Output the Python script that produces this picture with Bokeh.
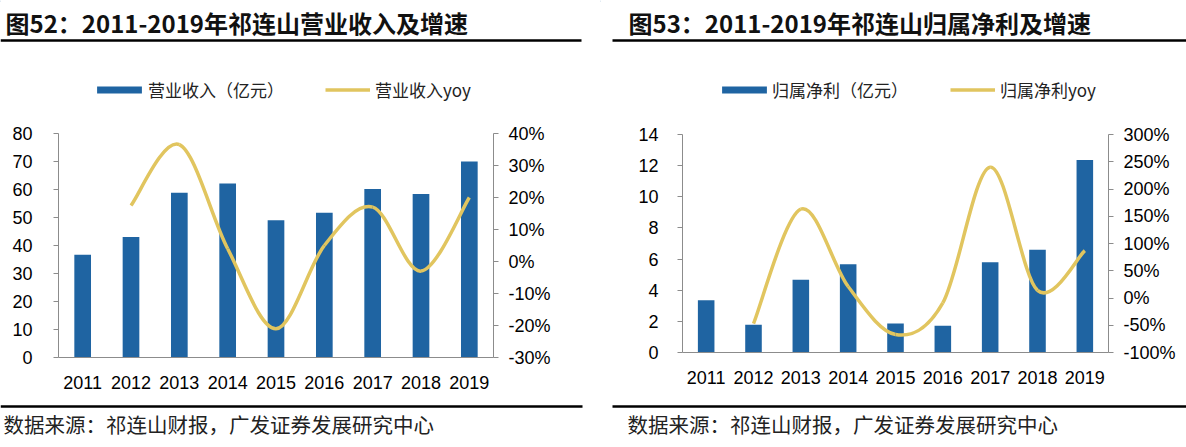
from bokeh.plotting import figure
from bokeh.models import (Range1d, LinearAxis, FixedTicker, PrintfTickFormatter,
                          Legend, LegendItem, ColumnDataSource)
from bokeh.layouts import row, column
from bokeh.embed import file_html
from bokeh.resources import INLINE
from bokeh.core.properties import value

# ---------------- data ----------------
years = ["2011", "2012", "2013", "2014", "2015", "2016", "2017", "2018", "2019"]
revenue = [36.7, 43.0, 58.8, 62.1, 49.0, 51.7, 60.2, 58.4, 70.0]          # 营业收入（亿元）
revenue_yoy = [None, 17.5, 36.5, 4.0, -21.0, 5.0, 17.0, -3.0, 20.0]       # %
profit = [3.35, 1.79, 4.68, 5.66, 1.86, 1.71, 5.79, 6.60, 12.37]          # 归属净利（亿元）
profit_yoy = [None, -47.0, 163.0, 21.0, -67.0, -9.0, 240.0, 14.0, 87.0]    # %

left_ticks = [0, 10, 20, 30, 40, 50, 60, 70, 80]
left_pct_ticks = [-30, -20, -10, 0, 10, 20, 30, 40]
right_ticks = [0, 2, 4, 6, 8, 10, 12, 14]
right_pct_ticks = [-100, -50, 0, 50, 100, 150, 200, 250, 300]

title_l = "图52：2011-2019年祁连山营业收入及增速"
title_r = "图53：2011-2019年祁连山归属净利及增速"
bar_label_l, line_label_l = "营业收入（亿元）", "营业收入yoy"
bar_label_r, line_label_r = "归属净利（亿元）", "归属净利yoy"
source_text = "数据来源：祁连山财报，广发证券发展研究中心"

# ---------------- style ----------------
BLUE = "#1F64A2"
GOLD = "#E1C55F"
AXIS = "#8C8C8C"
CJK = "Noto Sans CJK SC"
NUM = "Liberation Sans"
TICK_SIZE = "18px"
HEAD_H, CHART_H, FOOT_H = 112, 283, 52


def bare(width, height):
    f = figure(width=width, height=height, x_range=Range1d(0, width),
               y_range=Range1d(height, 0), toolbar_location=None,
               output_backend="svg", x_axis_location=None, y_axis_location=None,
               min_border=0, min_border_left=0, min_border_right=0,
               min_border_top=0, min_border_bottom=0, outline_line_color=None,
               title=None, frame_align=False)
    f.grid.visible = False
    return f


def header(width, title, title_x, rule_x0, rule_x1, bar_label, line_label,
           bar_loc, line_loc, bar_standoff, line_standoff):
    h = bare(width, HEAD_H)
    h.text(x=[title_x], y=[22], text=[title], text_font=value(CJK),
           text_font_size="24px", text_font_style="bold", text_baseline="middle",
           text_align="left", text_color="#111111")
    h.segment(x0=[rule_x0], y0=[40], x1=[rule_x1], y1=[40], line_width=2.5,
              line_color="#000000")
    # off-canvas stand-ins, used only for the legend swatches
    rb = h.vbar(x=[-500], top=[1], width=1, fill_color=BLUE, line_color=None)
    rl = h.line(x=[-500, -499], y=[1, 1], line_color=GOLD, line_width=3.5)
    common = dict(padding=0, margin=0, spacing=0, border_line_color=None,
                  background_fill_alpha=0, label_text_font=CJK,
                  label_text_font_size="17px", label_text_color="#222222",
                  glyph_height=9, label_height=9)
    lg1 = Legend(items=[LegendItem(label=bar_label, renderers=[rb])],
                 location=bar_loc, glyph_width=56, label_standoff=bar_standoff, **common)
    lg2 = Legend(items=[LegendItem(label=line_label, renderers=[rl])],
                 location=line_loc, glyph_width=45, label_standoff=line_standoff, **common)
    h.add_layout(lg1)
    h.add_layout(lg2)
    return h


def footer(width, text_x, rule_x0, rule_x1):
    f = bare(width, FOOT_H)
    f.segment(x0=[rule_x0], y0=[11], x1=[rule_x1], y1=[11], line_width=2.5,
              line_color="#000000")
    f.text(x=[text_x], y=[28], text=[source_text], text_font=value(CJK),
           text_font_size="20.5px", text_baseline="middle", text_align="left",
           text_color="#222222")
    return f


def smooth(xs, ys):
    n = len(xs)
    d = dict(x0=[], y0=[], x1=[], y1=[], cx0=[], cy0=[], cx1=[], cy1=[])
    for i in range(n - 1):
        xm, ym = (xs[i - 1], ys[i - 1]) if i > 0 else (xs[i], ys[i])
        xp, yp = (xs[i + 2], ys[i + 2]) if i + 2 < n else (xs[i + 1], ys[i + 1])
        d["x0"].append(xs[i]); d["y0"].append(ys[i])
        d["x1"].append(xs[i + 1]); d["y1"].append(ys[i + 1])
        d["cx0"].append(xs[i] + (xs[i + 1] - xm) / 6.0)
        d["cy0"].append(ys[i] + (ys[i + 1] - ym) / 6.0)
        d["cx1"].append(xs[i + 1] - (xp - xs[i]) / 6.0)
        d["cy1"].append(ys[i + 1] - (yp - ys[i]) / 6.0)
    return ColumnDataSource(d)


def style_axis(ax, ticks_out=5):
    ax.axis_line_color = AXIS
    ax.axis_line_width = 1
    ax.major_tick_line_color = AXIS
    ax.major_tick_out = ticks_out
    ax.major_tick_in = 0
    ax.minor_tick_line_color = None
    ax.major_label_text_font = NUM
    ax.major_label_text_font_size = TICK_SIZE
    ax.major_label_text_color = "#000000"


def chart(width, borders, y_end, yticks, pct_range, pct_ticks, bars, yoy,
          bar_width, l_standoff, r_standoff):
    lft, rgt, top, bot = borders
    p = figure(width=width, height=CHART_H, x_range=Range1d(-0.5, len(years) - 0.5),
               y_range=Range1d(0, y_end), toolbar_location=None,
               output_backend="svg", min_border_left=lft, min_border_right=rgt,
               min_border_top=top, min_border_bottom=bot, outline_line_color=None,
               title=None, frame_align=False)
    p.grid.visible = False
    p.extra_y_ranges = {"yoy": Range1d(*pct_range)}
    idx = list(range(len(years)))
    p.vbar(x=idx, top=bars, width=bar_width, fill_color=BLUE, line_color=None)
    xs = [i for i, v in zip(idx, yoy) if v is not None]
    ys = [v for v in yoy if v is not None]
    p.bezier(x0="x0", y0="y0", x1="x1", y1="y1", cx0="cx0", cy0="cy0",
             cx1="cx1", cy1="cy1", source=smooth(xs, ys), y_range_name="yoy",
             line_color=GOLD, line_width=3.5)
    ya = p.yaxis[0]
    ya.ticker = FixedTicker(ticks=yticks)
    style_axis(ya)
    ya.major_label_standoff = l_standoff
    ra = LinearAxis(y_range_name="yoy", ticker=FixedTicker(ticks=pct_ticks),
                    formatter=PrintfTickFormatter(format="%d%%"))
    style_axis(ra)
    ra.major_label_standoff = r_standoff
    p.add_layout(ra, "right")
    xa = p.xaxis[0]
    xa.ticker = FixedTicker(ticks=idx)
    xa.major_label_overrides = {i: y for i, y in enumerate(years)}
    style_axis(xa, ticks_out=0)
    xa.major_tick_line_color = None
    xa.major_label_standoff = 18
    return p


# ---------------- left panel (page x 0..600) ----------------
hl = header(600, title_l, 5, 0, 581, bar_label_l, line_label_l,
            (91, 10), (325, 10), 1, 5)
cl = chart(600, (58, 107, 21, 38), 80, left_ticks, (-30, 40), left_pct_ticks,
           revenue, revenue_yoy, 0.345, 21, 10)
fl = footer(600, 3, 0, 582)

# ---------------- right panel (page x 600..1186) ----------------
hr = header(586, title_r, 28, 12, 586, bar_label_r, line_label_r,
            (116, 10), (350, 10), 0, 5)
cr = chart(586, (82, 78, 22, 43), 14, right_ticks, (-100, 300), right_pct_ticks,
           profit, profit_yoy, 0.35, 19, 10)
fr = footer(586, 27, 12, 586)

layout = row(column(hl, cl, fl, spacing=0),
             column(hr, cr, fr, spacing=0), spacing=0)

open("out.html", "w").write(file_html(layout, INLINE))
